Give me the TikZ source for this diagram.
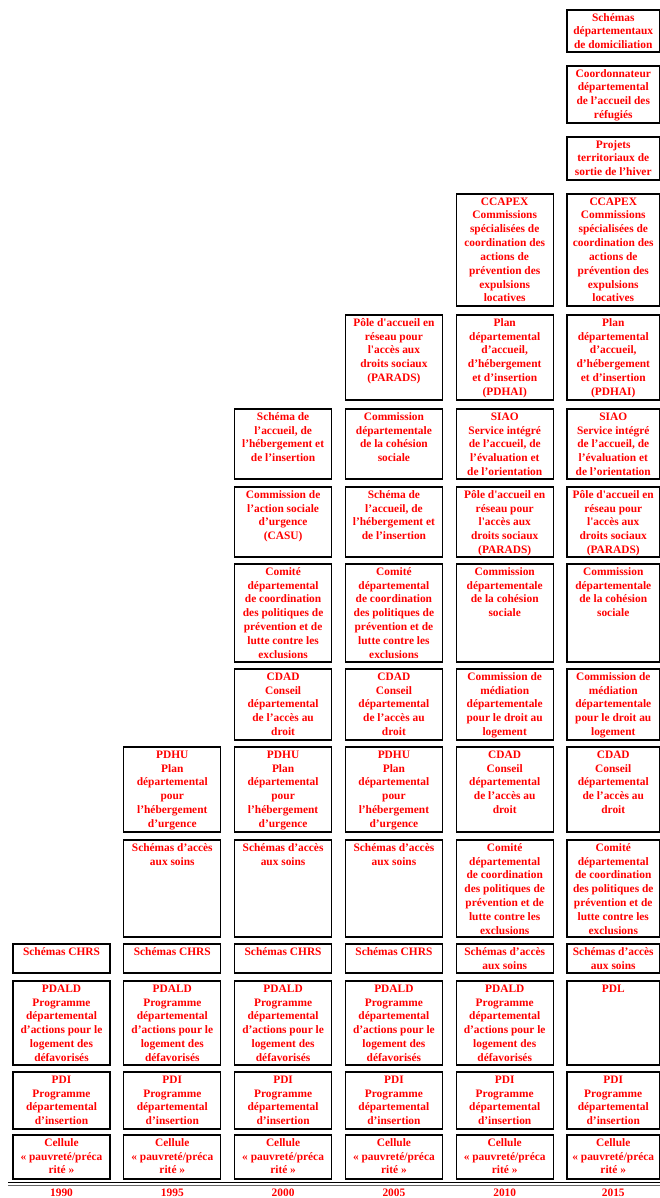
\documentclass[tikz,border=0pt]{standalone}
\usepackage{fontspec}
\setmainfont{Liberation Serif}
\newfontfamily\sqfont{Liberation Serif}
\newcommand\sq{{\sqfont '}}
\definecolor{txtred}{RGB}{255,0,0}
\newcommand\txCel{Cellule\\« pauvreté/préca\\rité »}
\newcommand\txPDI{PDI\\Programme\\départemental\\d’insertion}
\newcommand\txPDALD{PDALD\\Programme\\départemental\\d’actions pour le\\logement des\\défavorisés}
\newcommand\txPDL{PDL}
\newcommand\txCHRS{Schémas CHRS}
\newcommand\txSoins{Schémas d’accès\\aux soins}
\newcommand\txPDHU{PDHU\\Plan\\départemental\\pour\\l’hébergement\\d’urgence}
\newcommand\txCDAD{CDAD\\Conseil\\départemental\\de l’accès au\\droit}
\newcommand\txComite{Comité\\départemental\\de coordination\\des politiques de\\prévention et de\\lutte contre les\\exclusions}
\newcommand\txCASU{Commission de\\l’action sociale\\d’urgence\\(CASU)}
\newcommand\txSchAcc{Schéma de\\l’accueil, de\\l’hébergement et\\de l’insertion}
\newcommand\txCohes{Commission\\départementale\\de la cohésion\\sociale}
\newcommand\txPARADS{Pôle d\sq accueil en\\réseau pour\\l\sq accès aux\\droits sociaux\\(PARADS)}
\newcommand\txMed{Commission de\\médiation\\départementale\\pour le droit au\\logement}
\newcommand\txSIAO{SIAO\\Service intégré\\de l’accueil, de\\l’évaluation et\\de l’orientation}
\newcommand\txPDHAI{Plan\\départemental\\d’accueil,\\d’hébergement\\et d’insertion\\(PDHAI)}
\newcommand\txCCAPEX{CCAPEX\\Commissions\\spécialisées de\\coordination des\\actions de\\prévention des\\expulsions\\locatives}
\newcommand\txProj{Projets\\territoriaux de\\sortie de l’hiver}
\newcommand\txCoord{Coordonnateur\\départemental\\de l’accueil des\\réfugiés}
\newcommand\txDomic{Schémas\\départementaux\\de domiciliation}
% #1 column (0-5), #2 top, #3 bottom, #4 name, #5 text
\newcommand\tlbox[5]{%
  \pgfmathsetmacro\bxl{13+110.8*#1}%
  \pgfmathsetmacro\bxh{#3-#2}%
  \pgfmathsetmacro\bxw{ifthenelse(#1==5,92.5,97)}%
  \node[boxst, minimum width=\bxw pt, minimum height=\bxh pt] (#4) at (\bxl,#2) {};%
  \node[txtst] (#4t) at ([yshift=-2pt]#4.north) {\rule{0pt}{9pt}#5};%
}
\tikzset{
  boxst/.style={draw=black, rectangle, line width=1.1pt, anchor=north west, inner sep=0pt, outer sep=0pt},
  txtst/.style={anchor=north, align=center, inner sep=0pt, text=txtred, font=\fontsize{11.4}{13.8}\selectfont\bfseries},
  yearst/.style={anchor=center, inner sep=0pt, text=txtred, font=\fontsize{11.4}{13.8}\selectfont\bfseries}
}
\begin{document}
\begin{tikzpicture}[x=1pt,y=-1pt]
\useasboundingbox (0,0) rectangle (660,1198);
% column 0 : 1990
\tlbox{0}{1135}{1179}{aA}{\txCel}
\tlbox{0}{1072}{1129}{aB}{\txPDI}
\tlbox{0}{981}{1065}{aC}{\txPDALD}
\tlbox{0}{944}{973}{aD}{\txCHRS}
% column 1 : 1995
\tlbox{1}{1135}{1179}{bA}{\txCel}
\tlbox{1}{1072}{1129}{bB}{\txPDI}
\tlbox{1}{981}{1065}{bC}{\txPDALD}
\tlbox{1}{944}{973}{bD}{\txCHRS}
\tlbox{1}{840}{937}{bE}{\txSoins}
\tlbox{1}{747}{832}{bF}{\txPDHU}
% column 2 : 2000
\tlbox{2}{1135}{1179}{cA}{\txCel}
\tlbox{2}{1072}{1129}{cB}{\txPDI}
\tlbox{2}{981}{1065}{cC}{\txPDALD}
\tlbox{2}{944}{973}{cD}{\txCHRS}
\tlbox{2}{840}{937}{cE}{\txSoins}
\tlbox{2}{747}{832}{cF}{\txPDHU}
\tlbox{2}{669}{740}{cG}{\txCDAD}
\tlbox{2}{564}{662}{cH}{\txComite}
\tlbox{2}{487}{557}{cI}{\txCASU}
\tlbox{2}{409}{479}{cJ}{\txSchAcc}
% column 3 : 2005
\tlbox{3}{1135}{1179}{dA}{\txCel}
\tlbox{3}{1072}{1129}{dB}{\txPDI}
\tlbox{3}{981}{1065}{dC}{\txPDALD}
\tlbox{3}{944}{973}{dD}{\txCHRS}
\tlbox{3}{840}{937}{dE}{\txSoins}
\tlbox{3}{747}{832}{dF}{\txPDHU}
\tlbox{3}{669}{740}{dG}{\txCDAD}
\tlbox{3}{564}{662}{dH}{\txComite}
\tlbox{3}{487}{557}{dI}{\txSchAcc}
\tlbox{3}{409}{479}{dJ}{\txCohes}
\tlbox{3}{315}{400}{dK}{\txPARADS}
% column 4 : 2010
\tlbox{4}{1135}{1179}{eA}{\txCel}
\tlbox{4}{1072}{1129}{eB}{\txPDI}
\tlbox{4}{981}{1065}{eC}{\txPDALD}
\tlbox{4}{944}{973}{eD}{\txSoins}
\tlbox{4}{840}{937}{eE}{\txComite}
\tlbox{4}{747}{832}{eF}{\txCDAD}
\tlbox{4}{669}{740}{eG}{\txMed}
\tlbox{4}{564}{662}{eH}{\txCohes}
\tlbox{4}{487}{557}{eI}{\txPARADS}
\tlbox{4}{409}{479}{eJ}{\txSIAO}
\tlbox{4}{315}{400}{eK}{\txPDHAI}
\tlbox{4}{194}{306}{eL}{\txCCAPEX}
% column 5 : 2015
\tlbox{5}{1135}{1179}{fA}{\txCel}
\tlbox{5}{1072}{1129}{fB}{\txPDI}
\tlbox{5}{981}{1065}{fC}{\txPDL}
\tlbox{5}{944}{973}{fD}{\txSoins}
\tlbox{5}{840}{937}{fE}{\txComite}
\tlbox{5}{747}{832}{fF}{\txCDAD}
\tlbox{5}{669}{740}{fG}{\txMed}
\tlbox{5}{564}{662}{fH}{\txCohes}
\tlbox{5}{487}{557}{fI}{\txPARADS}
\tlbox{5}{409}{479}{fJ}{\txSIAO}
\tlbox{5}{315}{400}{fK}{\txPDHAI}
\tlbox{5}{194}{306}{fL}{\txCCAPEX}
\tlbox{5}{137}{180}{fM}{\txProj}
\tlbox{5}{66}{123}{fN}{\txCoord}
\tlbox{5}{10}{52}{fO}{\txDomic}
% time axis
\coordinate (axL) at (8,1182.5);
\coordinate (axR) at (660,1182.5);
\coordinate (axL2) at (8,1185.5);
\coordinate (axR2) at (660,1185.5);
\draw[line width=1.8pt, black] (axL) -- (axR);
\draw[line width=0.6pt, black!60] (axL2) -- (axR2);
% years
\node[yearst] (y1990) at (aA.south |- 0,1193) {1990};
\node[yearst] (y1995) at (bA.south |- 0,1193) {1995};
\node[yearst] (y2000) at (cA.south |- 0,1193) {2000};
\node[yearst] (y2005) at (dA.south |- 0,1193) {2005};
\node[yearst] (y2010) at (eA.south |- 0,1193) {2010};
\node[yearst] (y2015) at (fA.south |- 0,1193) {2015};
\end{tikzpicture}
\end{document}
